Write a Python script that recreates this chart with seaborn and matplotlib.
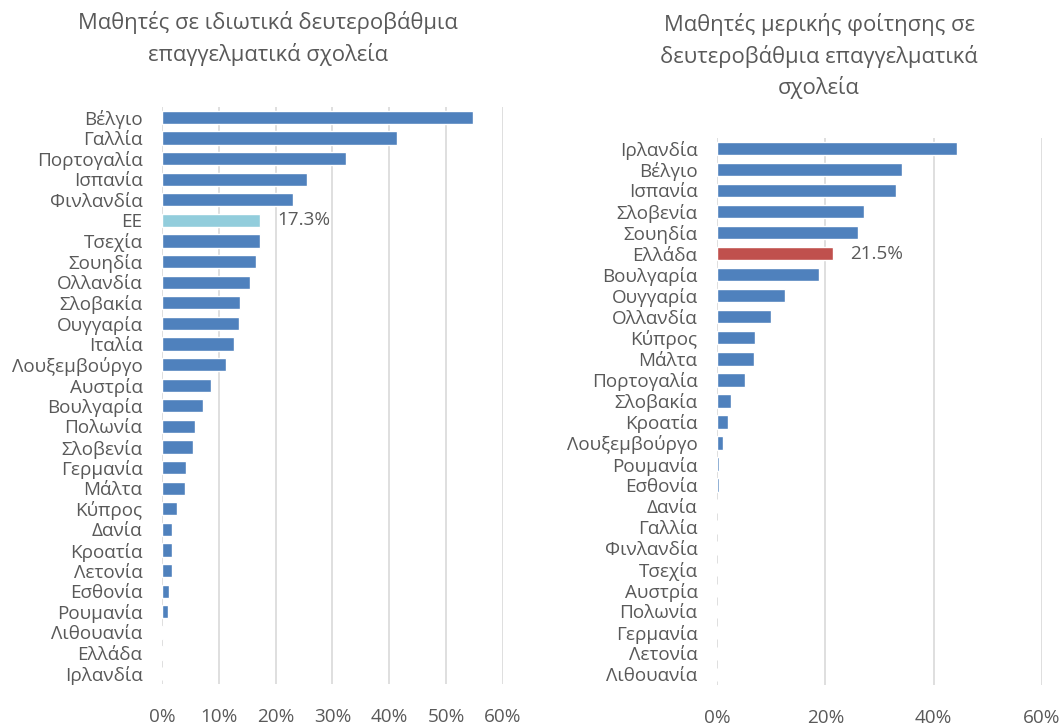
import matplotlib
matplotlib.use("Agg")
import matplotlib.pyplot as plt
import seaborn as sns
import pandas as pd
from matplotlib.ticker import FuncFormatter

# Private vocational upper-secondary students (% of students)
private_countries = ["Βέλγιο", "Γαλλία", "Πορτογαλία", "Ισπανία", "Φινλανδία", "ΕΕ",
                     "Τσεχία", "Σουηδία", "Ολλανδία", "Σλοβακία", "Ουγγαρία", "Ιταλία",
                     "Λουξεμβούργο", "Αυστρία", "Βουλγαρία", "Πολωνία", "Σλοβενία",
                     "Γερμανία", "Μάλτα", "Κύπρος", "Δανία", "Κροατία", "Λετονία",
                     "Εσθονία", "Ρουμανία", "Λιθουανία", "Ελλάδα", "Ιρλανδία"]
private_values = [54.7, 41.3, 32.3, 25.5, 23.0, 17.3, 17.2, 16.6, 15.5, 13.8, 13.6, 12.6,
                  11.2, 8.7, 7.3, 5.8, 5.4, 4.2, 4.1, 2.7, 1.8, 1.7, 1.7, 1.2, 1.1,
                  0.2, 0.1, 0.0]

# Part-time vocational upper-secondary students (% of students)
parttime_countries = ["Ιρλανδία", "Βέλγιο", "Ισπανία", "Σλοβενία", "Σουηδία", "Ελλάδα",
                      "Βουλγαρία", "Ουγγαρία", "Ολλανδία", "Κύπρος", "Μάλτα", "Πορτογαλία",
                      "Σλοβακία", "Κροατία", "Λουξεμβούργο", "Ρουμανία", "Εσθονία",
                      "Δανία", "Γαλλία", "Φινλανδία", "Τσεχία", "Αυστρία", "Πολωνία",
                      "Γερμανία", "Λετονία", "Λιθουανία"]
parttime_values = [44.3, 34.2, 33.1, 27.2, 26.0, 21.5, 18.8, 12.5, 10.0, 7.0, 6.8, 5.2,
                   2.5, 2.1, 1.1, 0.3, 0.3, 0.05, 0.0, 0.0, 0.0, 0.0, 0.0, 0.0, 0.0, 0.0]

left_title = "Μαθητές σε ιδιωτικά δευτεροβάθμια\nεπαγγελματικά σχολεία"
right_title = "Μαθητές μερικής φοίτησης σε\nδευτεροβάθμια επαγγελματικά\nσχολεία"

BLUE = "#4F81BD"
EU_BLUE = "#92CDDC"
RED = "#C0504D"
TEXT = "#595959"
GRID = "#D9D9D9"

sns.set_theme(style="white")
plt.rcParams["font.family"] = ["Open Sans", "DejaVu Sans"]

fig = plt.figure(figsize=(10.62, 7.25), dpi=100)
ax1 = fig.add_axes([0.1525, 0.0566, 0.3211, 0.7958])
ax2 = fig.add_axes([0.6751, 0.0552, 0.3061, 0.7547])

LABEL_SIZE = 13.6


def draw_panel(ax, cats, vals, highlight, hcolor, xmax, step):
    df = pd.DataFrame({"country": cats, "value": vals})
    palette = {c: (hcolor if c == highlight else BLUE) for c in cats}
    sns.barplot(data=df, x="value", y="country", hue="country", palette=palette,
                legend=False, orient="h", width=0.64, saturation=1, ax=ax)
    ax.set_xlim(0, xmax)
    ax.set_ylim(len(cats) - 0.5, -0.5)
    ax.set_xticks(range(0, xmax + 1, step))
    ax.xaxis.set_major_formatter(FuncFormatter(lambda v, p: f"{v:.0f}%"))
    ax.grid(axis="x", color=GRID, linewidth=1.2)
    ax.set_axisbelow(True)
    for s in ax.spines.values():
        s.set_visible(False)
    ax.set_xlabel("")
    ax.set_ylabel("")
    ax.tick_params(axis="x", length=0, pad=17, labelsize=LABEL_SIZE, labelcolor=TEXT)
    ax.tick_params(axis="y", length=0, pad=14, labelsize=LABEL_SIZE, labelcolor=TEXT)
    i = cats.index(highlight)
    ax.text(vals[i] + xmax * 0.05, i, f"{vals[i]:.1f}%", va="center", ha="left",
            fontsize=LABEL_SIZE, color=TEXT)


draw_panel(ax1, private_countries, private_values, "ΕΕ", EU_BLUE, 60, 10)
draw_panel(ax2, parttime_countries, parttime_values, "Ελλάδα", RED, 60, 20)

fig.text(268 / 1062, 1 - 38.5 / 725, left_title, ha="center", va="center",
         fontsize=15.8, color=TEXT, linespacing=1.45)
fig.text(819 / 1062, 1 - 56 / 725, right_title, ha="center", va="center",
         fontsize=15.8, color=TEXT, linespacing=1.45)

fig.savefig("out.png", dpi=100, facecolor="white")
